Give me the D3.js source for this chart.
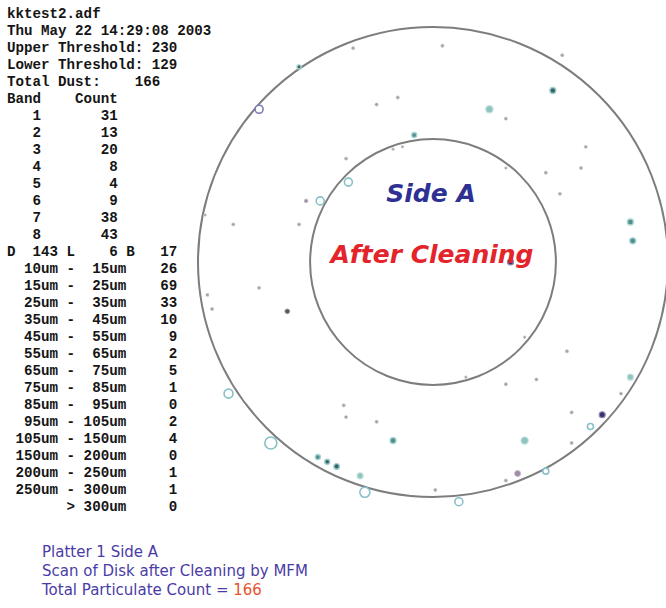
<!DOCTYPE html>
<html>
<head>
<meta charset="utf-8">
<script src="https://cdn.jsdelivr.net/npm/d3@7/dist/d3.min.js"></script>
<style>
  html, body { margin: 0; padding: 0; background: #fff; }
  svg { display: block; }
  .mono { font-family: "Liberation Mono", "DejaVu Sans Mono", monospace; font-weight: bold; white-space: pre; }
</style>
</head>
<body>
<div id="chart"></div>
<script>
// ---------------- DATA ----------------
const fileName = "kktest2.adf";
const scanDate = "Thu May 22 14:29:08 2003";
const upperThreshold = 230;
const lowerThreshold = 129;
const totalDust = 166;

const bands = [1, 2, 3, 4, 5, 6, 7, 8];
const bandCounts = [31, 13, 20, 8, 4, 9, 38, 43];

const dlbLabels = ["D", "L", "B"];
const dlbCounts = [143, 6, 17];

const sizeLow  = ["10um", "15um", "25um", "35um", "45um", "55um", "65um", "75um", "85um", "95um", "105um", "150um", "200um", "250um", ">"];
const sizeHigh = ["15um", "25um", "35um", "45um", "55um", "65um", "75um", "85um", "95um", "105um", "150um", "200um", "250um", "300um", "300um"];
const sizeCounts = [26, 69, 33, 10, 9, 2, 5, 1, 0, 2, 4, 0, 1, 1, 0];

// disk rings (percent of outer radius)
const ringRadii = [100, 52.3];

// particles: position in percent of outer disk radius, estimated size (um), kind
const particleX = [-34, -57, -74, -15, -24, -8, -17, -13, -37, -36, -48, -54, -85, -57, -97,
                   4, 55, 51, 24, 31, 65, 63, 48, 31, 54, 84, 85, 33,
                   -96, -94, -74, -62, -87, -69, -38, -37, -24, -17, -49, -45, -41, -31, -29, 1,
                   57, 44, 31, 39, 14, 84, 80, 59, 72, 67, 39, 59, 36, 48, 31, 11];
const particleY = [91, 83, 65, 70, 67, 54, 48, 49, 44, 34, 26, 26, 16, 16, 20,
                   92, 88, 73, 65, 61, 49, 40, 38, 40, 29, 17, 9, 0,
                   -14, -20, -11, -21, -56, -77, -61, -66, -68, -76, -83, -85, -87, -91, -98, -97,
                   -38, -50, -52, -32, -49, -49, -56, -64, -65, -70, -76, -77, -90, -89, -93, -102];
const particleSize = [8, 12, 44, 8, 8, 18, 5, 5, 8, 44, 44, 9, 8, 8, 5,
                      8, 8, 25, 36, 8, 8, 8, 8, 5, 8, 25, 25, 25,
                      8, 8, 8, 16, 56, 100, 8, 8, 8, 25, 18, 18, 22, 25, 70, 8,
                      8, 8, 8, 5, 5, 25, 8, 8, 25, 25, 36, 8, 25, 25, 8, 44];
const particleKind = ["g", "d", "b", "g", "g", "t", "g", "g", "g", "r", "r", "q", "g", "g", "g",
                      "g", "g", "d", "l", "g", "g", "g", "g", "g", "g", "t", "t", "p",
                      "g", "g", "g", "k", "r", "r", "g", "g", "g", "t", "t", "d", "d", "l", "r", "g",
                      "g", "g", "g", "g", "g", "l", "g", "g", "p", "r", "l", "g", "q", "r", "g", "r"];

const captionLines = ["Platter 1 Side A", "Scan of Disk after Cleaning by MFM", "Total Particulate Count = "];

// ---------------- DRAW ----------------
const W = 666, H = 608;
const svg = d3.select("#chart").append("svg").attr("width", W).attr("height", H);
svg.append("rect").attr("width", W).attr("height", H).attr("fill", "#fff");

// left text block
const pad = (v, n) => String(v).padStart(n, " ");
const textRows = [
  fileName,
  scanDate,
  "Upper Threshold: " + upperThreshold,
  "Lower Threshold: " + lowerThreshold,
  "Total Dust:    " + totalDust,
  "Band    Count",
  ...bands.map((b, i) => pad(b, 4) + pad(bandCounts[i], 9)),
  dlbLabels[0] + pad(dlbCounts[0], 5) + " " + dlbLabels[1] + pad(dlbCounts[1], 5) + " " + dlbLabels[2] + pad(dlbCounts[2], 5),
  ...sizeLow.map((lo, i) => (lo === ">" ? pad(">", 8) : pad(lo, 6) + " -") + pad(sizeHigh[i], 6) + pad(sizeCounts[i], 6))
];
const rowY = d3.scaleLinear().domain([0, 1]).range([18, 35]);
svg.append("g").selectAll("text").data(textRows).join("text")
  .attr("class", "mono")
  .attr("x", 7)
  .attr("y", (d, i) => rowY(i))
  .attr("font-size", 14.2)
  .attr("fill", "#151515")
  .text(d => d);

// disk
const cx = 433, cy = 262, R = 235;
const x = d3.scaleLinear().domain([-100, 100]).range([cx - R, cx + R]);
const y = d3.scaleLinear().domain([-100, 100]).range([cy + R, cy - R]);
const rr = d3.scaleLinear().domain([0, 100]).range([0, R]);

svg.append("g").selectAll("circle").data(ringRadii).join("circle")
  .attr("cx", x(0)).attr("cy", y(0)).attr("r", d => rr(d))
  .attr("fill", "none").attr("stroke", "#7d7d7d").attr("stroke-width", 2);

// particles
const particles = particleX.map((px, i) => ({ x: px, y: particleY[i], s: particleSize[i], k: particleKind[i] }));
const sizeR = d3.scaleSqrt().domain([0, 100]).range([0, 6]);
const kinds = ["g", "d", "t", "l", "r", "b", "p", "q", "k"];
const fillC = d3.scaleOrdinal().domain(kinds)
  .range(["#a3a3a3", "#2f6a6a", "#4f8f8f", "#8ec3be", "#ffffff", "#ffffff", "#3e2f6e", "#9e8ca6", "#555a5a"]);
const strokeC = d3.scaleOrdinal().domain(kinds)
  .range(["#d2d2d2", "#a9cccc", "#a9d3d0", "#bfe0dc", "#86c0c8", "#7b7bb8", "#8f86b0", "#c7b8c8", "#9a9a9a"]);
const strokeW = d3.scaleOrdinal().domain(kinds)
  .range([0.6, 1.4, 1.4, 1.2, 1.6, 1.6, 1.2, 1, 0.8]);

svg.append("g").selectAll("circle").data(particles).join("circle")
  .attr("cx", d => x(d.x)).attr("cy", d => y(d.y)).attr("r", d => sizeR(d.s))
  .attr("fill", d => fillC(d.k))
  .attr("stroke", d => strokeC(d.k))
  .attr("stroke-width", d => strokeW(d.k));

// center labels
svg.append("text")
  .attr("x", 431).attr("y", 202).attr("text-anchor", "middle")
  .attr("font-family", "DejaVu Sans, Verdana, sans-serif")
  .attr("font-weight", "bold").attr("font-style", "italic")
  .attr("font-size", 25).attr("fill", "#2e3192")
  .text("Side A");
svg.append("text")
  .attr("x", 432).attr("y", 263).attr("text-anchor", "middle")
  .attr("font-family", "DejaVu Sans, Verdana, sans-serif")
  .attr("font-weight", "bold").attr("font-style", "italic")
  .attr("font-size", 25).attr("fill", "#e3242b")
  .text("After Cleaning");

// caption
const capY = d3.scaleLinear().domain([0, 1]).range([557, 576]);
const cap = svg.append("g").attr("font-family", "DejaVu Sans, Verdana, sans-serif").attr("font-size", 15);
captionLines.forEach((line, i) => {
  const t = cap.append("text").attr("x", 42).attr("y", capY(i)).attr("fill", "#4a3ca6");
  t.append("tspan").text(line);
  if (i === captionLines.length - 1) t.append("tspan").attr("fill", "#e8552d").text(totalDust);
});
</script>
</body>
</html>
